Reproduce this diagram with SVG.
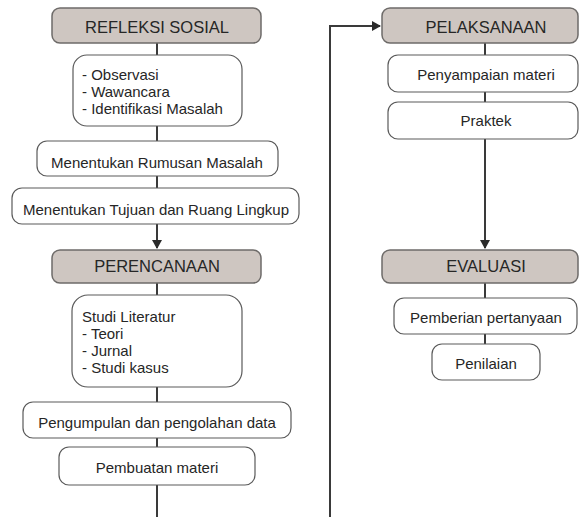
<svg xmlns="http://www.w3.org/2000/svg" width="579" height="517" viewBox="0 0 579 517">
<defs>
<style>
.hd{fill:#cec6c1;stroke:#6e6b69;stroke-width:1.5}
.bx{fill:#ffffff;stroke:#5a5a5a;stroke-width:1.2}
.ht{font-family:"Liberation Sans",Arial,sans-serif;font-size:16.5px;fill:#262626;text-anchor:middle}
.t{font-family:"Liberation Sans",Arial,sans-serif;font-size:15px;fill:#262626;text-anchor:middle}
.tl{font-family:"Liberation Sans",Arial,sans-serif;font-size:15px;fill:#262626}
.ln{fill:none;stroke:#3a3a3a;stroke-width:2}
</style>
<marker id="ah" markerWidth="10" markerHeight="10" refX="8" refY="5" orient="auto" markerUnits="userSpaceOnUse">
<path d="M0,0 L9,5 L0,10 Z" fill="#2a2a2a"/>
</marker>
</defs>
<rect width="579" height="517" fill="#ffffff"/>
<g id="connectors">
<line class="ln" x1="157" y1="43" x2="157" y2="55"/>
<line class="ln" x1="157" y1="126" x2="157" y2="141"/>
<line class="ln" x1="157" y1="176" x2="157" y2="188"/>
<line class="ln" x1="157" y1="224" x2="157" y2="248" marker-end="url(#ah)"/>
<line class="ln" x1="157" y1="283" x2="157" y2="295"/>
<line class="ln" x1="157" y1="387" x2="157" y2="402"/>
<line class="ln" x1="157" y1="438" x2="157" y2="447"/>
<line class="ln" x1="157" y1="485" x2="157" y2="517"/>
<polyline class="ln" points="330,517 330,26 380,26" marker-end="url(#ah)"/>
<line class="ln" x1="485" y1="43" x2="485" y2="55"/>
<line class="ln" x1="485" y1="92" x2="485" y2="102"/>
<line class="ln" x1="485" y1="139" x2="485" y2="248" marker-end="url(#ah)"/>
<line class="ln" x1="485" y1="283" x2="485" y2="298"/>
<line class="ln" x1="485" y1="334" x2="485" y2="344"/>
</g>
<g id="refleksi">
<rect class="hd" x="52" y="8" width="209" height="35" rx="8"/>
<text class="ht" x="157" y="33">REFLEKSI SOSIAL</text>
</g>
<g id="observasi">
<rect class="bx" x="73" y="55" width="169" height="71" rx="14"/>
<text class="tl" x="82" y="80">- Observasi</text>
<text class="tl" x="82" y="97">- Wawancara</text>
<text class="tl" x="82" y="114">- Identifikasi Masalah</text>
</g>
<g id="rumusan">
<rect class="bx" x="37" y="141" width="241" height="35" rx="10"/>
<text class="t" x="157" y="168">Menentukan Rumusan Masalah</text>
</g>
<g id="tujuan">
<rect class="bx" x="12" y="188" width="287" height="36" rx="10"/>
<text class="t" x="156" y="215">Menentukan Tujuan dan Ruang Lingkup</text>
</g>
<g id="perencanaan">
<rect class="hd" x="52" y="250" width="209" height="33" rx="8"/>
<text class="ht" x="157" y="272">PERENCANAAN</text>
</g>
<g id="studi">
<rect class="bx" x="72" y="295" width="170" height="92" rx="16"/>
<text class="tl" x="82" y="322">Studi Literatur</text>
<text class="tl" x="82" y="339">- Teori</text>
<text class="tl" x="82" y="356">- Jurnal</text>
<text class="tl" x="82" y="373">- Studi kasus</text>
</g>
<g id="pengumpulan">
<rect class="bx" x="23" y="402" width="268" height="36" rx="10"/>
<text class="t" x="157" y="428">Pengumpulan dan pengolahan data</text>
</g>
<g id="pembuatan">
<rect class="bx" x="59" y="447" width="196" height="38" rx="10"/>
<text class="t" x="157" y="473">Pembuatan materi</text>
</g>
<g id="pelaksanaan">
<rect class="hd" x="382" y="8" width="196" height="35" rx="8"/>
<text class="ht" x="486" y="33">PELAKSANAAN</text>
</g>
<g id="penyampaian">
<rect class="bx" x="388" y="55" width="190" height="37" rx="10"/>
<text class="t" x="486" y="80">Penyampaian materi</text>
</g>
<g id="praktek">
<rect class="bx" x="388" y="102" width="190" height="37" rx="10"/>
<text class="t" x="486" y="126">Praktek</text>
</g>
<g id="evaluasi">
<rect class="hd" x="382" y="250" width="196" height="33" rx="8"/>
<text class="ht" x="486" y="272">EVALUASI</text>
</g>
<g id="pemberian">
<rect class="bx" x="394" y="298" width="183" height="36" rx="10"/>
<text class="t" x="486" y="323">Pemberian pertanyaan</text>
</g>
<g id="penilaian">
<rect class="bx" x="432" y="344" width="108" height="36" rx="10"/>
<text class="t" x="486" y="369">Penilaian</text>
</g>
</svg>
